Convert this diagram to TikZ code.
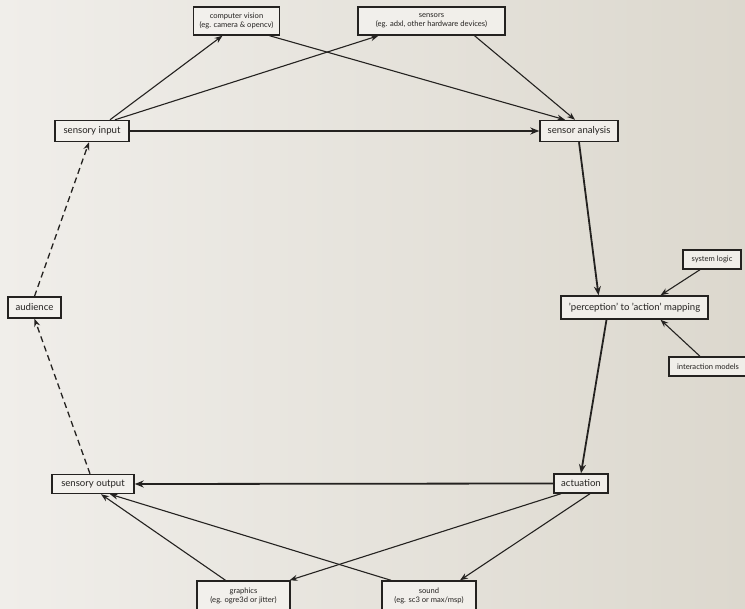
\documentclass[tikz,border=0pt]{standalone}
\usepackage{fontspec}
\setmainfont{Lato}
\usetikzlibrary{arrows.meta}
\definecolor{stoneA}{RGB}{240,238,234}
\definecolor{stoneB}{RGB}{220,216,206}
\definecolor{boxfill}{RGB}{244,242,238}
\definecolor{ink}{RGB}{36,34,32}
\tikzset{
  box/.style={draw=ink, line width=1.4pt, fill=boxfill, fill opacity=0.85, text opacity=1,
    text=ink, inner sep=0pt, align=center},
  bigbox/.style={box, font=\fontsize{9.6}{11}\selectfont},
  smallbox/.style={box, font=\fontsize{7.6}{9}\selectfont},
  link/.style={draw=ink, line width=1.1pt, -{Stealth[length=8pt,width=6pt]}},
  mainlink/.style={link, line width=1.8pt, -{Stealth[length=9pt,width=7pt]}},
  backlink/.style={link, line width=1.3pt, dash pattern=on 6pt off 4pt},
}
\begin{document}
\begin{tikzpicture}[x=1pt,y=-1pt]
  % weathered stone backdrop
  \shade[shading angle=135, left color=stoneA, right color=stoneB] (0,0) rectangle (745,609);
  \useasboundingbox (0,0) rectangle (745,609);

  % nodes
  \node[smallbox, minimum width=86pt, minimum height=28pt] (cv) at (236.5,21)
    {computer vision\\(eg. camera \& opencv)};
  \node[smallbox, minimum width=147pt, minimum height=28pt] (sens) at (431.5,21)
    {sensors\\(eg. adxl, other hardware devices)};
  \node[bigbox, minimum width=74pt, minimum height=21pt] (in) at (92,131) {sensory input};
  \node[bigbox, minimum width=78pt, minimum height=21pt] (ana) at (579,131) {sensor analysis};
  \node[smallbox, minimum width=58pt, minimum height=19pt] (logic) at (712,259.5) {system logic};
  \node[bigbox, minimum width=147pt, minimum height=23pt] (map) at (634.5,307.5)
    {'perception' to 'action' mapping};
  \node[smallbox, minimum width=78pt, minimum height=19pt] (inter) at (708,366.5) {interaction models};
  \node[bigbox, minimum width=53pt, minimum height=21pt] (aud) at (34.5,307.5) {audience};
  \node[bigbox, minimum width=82pt, minimum height=19pt] (out) at (93,484) {sensory output};
  \node[bigbox, minimum width=54pt, minimum height=19pt] (act) at (581,483.5) {actuation};
  \node[smallbox, minimum width=93pt, minimum height=30pt] (gfx) at (243.5,596) {graphics\\(eg. ogre3d or jitter)};
  \node[smallbox, minimum width=94pt, minimum height=30pt] (snd) at (429,596) {sound\\(eg. sc3 or max/msp)};

  % sensing
  \draw[link] ([xshift=18pt]in.north) -- ([xshift=-14pt]cv.south);
  \draw[link] ([xshift=23pt]in.north) -- ([xshift=-53pt]sens.south);
  \draw[link] ([xshift=33pt]cv.south) -- ([xshift=-14pt]ana.north);
  \draw[link] ([xshift=43pt]sens.south) -- ([xshift=-4pt]ana.north);
  \draw[mainlink] (in.east) -- (ana.west);

  % mapping
  \draw[mainlink] (ana.south) -- ([xshift=-36pt]map.north);
  \draw[link] ([xshift=-12pt]logic.south) -- ([xshift=26pt]map.north);
  \draw[link] ([xshift=-8pt]inter.north) -- ([xshift=26pt]map.south);
  \draw[mainlink] ([xshift=-28pt]map.south) -- (act.north);

  % output
  \draw[mainlink] (act.west) -- (out.east);
  \draw[link] ([xshift=-20pt]act.south) -- ([xshift=46pt]gfx.north);
  \draw[link] ([xshift=9pt]act.south) -- ([xshift=31pt]snd.north);
  \draw[link] ([xshift=-18pt]gfx.north) -- ([xshift=8pt]out.south);
  \draw[link] ([xshift=-38pt]snd.north) -- ([xshift=17pt]out.south);

  % audience loop
  \draw[backlink] ([xshift=-3pt]out.north) -- (aud.south);
  \draw[backlink] (aud.north) -- ([xshift=-3pt]in.south);
\end{tikzpicture}
\end{document}
